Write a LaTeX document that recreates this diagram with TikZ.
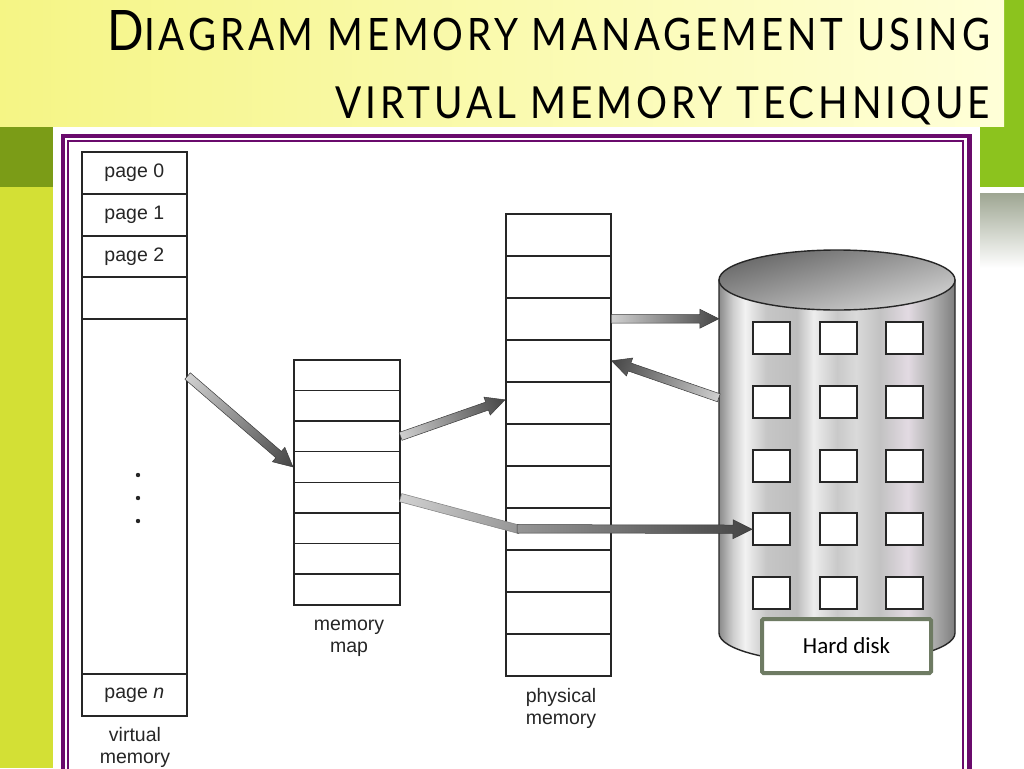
\documentclass[tikz,border=0pt]{standalone}
\usepackage{fontspec}
\usepackage{graphicx}
\setmainfont{Liberation Sans}
\newfontfamily\ttlfont[LetterSpace=10]{Lato}
\newfontfamily\hdfont{Carlito}
\usetikzlibrary{calc}

\definecolor{ttlA}{HTML}{F5F585}
\definecolor{ttlB}{HTML}{FFFFD8}
\definecolor{gDark}{HTML}{7B9C17}
\definecolor{gLight}{HTML}{D3E035}
\definecolor{gRight}{HTML}{8CC31E}
\definecolor{greyG}{HTML}{9EA692}
\definecolor{pur}{HTML}{6A0A6C}
\definecolor{txt}{HTML}{262626}
\definecolor{hdG}{HTML}{6E7B63}
\definecolor{arrL}{HTML}{D0D0D0}
\definecolor{arrM}{HTML}{959595}
\definecolor{arrD}{HTML}{454545}
\definecolor{elT}{HTML}{666666}
\definecolor{elB}{HTML}{D4D4D4}
\definecolor{cA}{HTML}{8A8A8A}
\definecolor{cB}{HTML}{CFCFCF}
\definecolor{cC}{HTML}{F2F2F2}
\definecolor{cD}{HTML}{C6C6C6}
\definecolor{cE}{HTML}{BDBDBD}
\definecolor{cF}{HTML}{EDEDED}
\definecolor{cG}{HTML}{C9C9C9}
\definecolor{cH}{HTML}{DADADA}
\definecolor{cI}{HTML}{C2C2C2}
\definecolor{cJ}{HTML}{E2DAE2}
\definecolor{cK}{HTML}{B2B2B2}
\definecolor{cL}{HTML}{7E7E7E}

\pgfdeclarehorizontalshading{cylbody}{100bp}{color(0bp)=(cA); color(25bp)=(cA); color(28bp)=(cB); color(30.5bp)=(cC); color(35bp)=(cD); color(41.5bp)=(cE); color(45bp)=(cF); color(50bp)=(cG); color(54bp)=(cH); color(59bp)=(cI); color(65bp)=(cJ); color(70bp)=(cK); color(75bp)=(cL); color(100bp)=(cL)}

\newcommand\lblfont{\fontsize{19.5}{22}\selectfont\color{txt}}

% shaded arrow from #1 to #2, tail colour #3, head colour #4
\newcommand\shadedarrow[4]{%
  \path (#1); \pgfgetlastxy{\saXa}{\saYa}%
  \path (#2); \pgfgetlastxy{\saXb}{\saYb}%
  \pgfmathsetmacro\saAng{atan2((\saYb)-(\saYa),(\saXb)-(\saXa))}%
  \pgfmathsetmacro\saLen{veclen((\saXb)-(\saXa),(\saYb)-(\saYa))}%
  \begin{scope}[transform canvas={shift={(#1)},rotate=\saAng}]
    \shadedraw[left color=#3, right color=#4, draw=#4!85!black, line width=0.5pt]
      (0pt,-4.2pt) -- (\saLen pt-19pt,-4.2pt) -- (\saLen pt-19pt,-9.5pt) -- (\saLen pt,0pt)
      -- (\saLen pt-19pt,9.5pt) -- (\saLen pt-19pt,4.2pt) -- (0pt,4.2pt) -- cycle;
  \end{scope}}
% shaded band (no head)
\newcommand\shadedband[4]{%
  \path (#1); \pgfgetlastxy{\saXa}{\saYa}%
  \path (#2); \pgfgetlastxy{\saXb}{\saYb}%
  \pgfmathsetmacro\saAng{atan2((\saYb)-(\saYa),(\saXb)-(\saXa))}%
  \pgfmathsetmacro\saLen{veclen((\saXb)-(\saXa),(\saYb)-(\saYa))}%
  \begin{scope}[transform canvas={shift={(#1)},rotate=\saAng}]
    \shadedraw[left color=#3, right color=#4, draw=#4!85!black, line width=0.5pt]
      (0pt,-4.2pt) -- (\saLen pt+3pt,-4.2pt) -- (\saLen pt+3pt,4.2pt) -- (0pt,4.2pt) -- cycle;
  \end{scope}}

\begin{document}
\begin{tikzpicture}[x=1pt,y=-1pt,
  cell/.style={draw=black!85, line width=1.6pt, inner sep=0pt, anchor=north west, font=\lblfont},
  hole/.style={draw=black!85, fill=white, line width=2pt, minimum width=37pt, minimum height=32pt, inner sep=0pt, anchor=north west},
  lbl/.style={align=center, font=\lblfont, inner sep=0pt}]
\useasboundingbox (0,0) rectangle (1024,768);

% slide background
\fill[gRight] (980,0) rectangle (1024,187);
\shade[top color=greyG, bottom color=white] (980,193) rectangle (1024,268);
\fill[gDark] (0,126) rectangle (53,187);
\fill[gLight] (0,187) rectangle (53,768);
\shade[left color=ttlA, right color=ttlB] (0,0) rectangle (1004,126);
\fill[white] (53,127) rectangle (980,768);

% title
\node[anchor=base east, inner sep=0pt] (ttl1) at (990,51)
  {\resizebox{882pt}{40pt}{\ttlfont\fontsize{50}{50}\selectfont D\fontsize{40}{40}\selectfont IAGRAM MEMORY MANAGEMENT USING}};
\node[anchor=base east, inner sep=0pt] (ttl2) at (990,118)
  {\resizebox{654pt}{32pt}{\ttlfont\fontsize{40}{40}\selectfont VIRTUAL MEMORY TECHNIQUE}};

% picture frame
\draw[pur, line width=4.5pt] (63,136) rectangle (969.5,800);
\draw[pur, line width=1.3pt] (68,141) rectangle (963,800);

% virtual memory
\node[cell, minimum width=105pt, minimum height=42pt] (vm0) at (81,151) {page 0};
\node[cell, minimum width=105pt, minimum height=42pt] (vm1) at (81,193) {page 1};
\node[cell, minimum width=105pt, minimum height=41pt] (vm2) at (81,235) {page 2};
\node[cell, minimum width=105pt, minimum height=42pt] (vm3) at (81,276) {};
\node[cell, minimum width=105pt, minimum height=355pt] (vmb) at (81,318) {};
\node[cell, minimum width=105pt, minimum height=42pt] (vmn) at (81,673) {page \textit{n}};
\foreach \y in {475,498,521} \fill[black!85] (138,\y) circle[radius=2.2pt];

% memory map
\foreach \i in {0,...,7}
  \node[cell, minimum width=106pt, minimum height=30.625pt] (mm\i) at (293,{359+30.625*\i}) {};

% physical memory
\foreach \i in {0,...,10}
  \node[cell, minimum width=105pt, minimum height=42pt] (pm\i) at (505,{213+42*\i}) {};

% labels
\node[lbl] (vmlbl) at (135,747) {virtual\\memory};
\node[lbl] (mmlbl) at (349,638) {memory\\map};
\node[lbl] (pmlbl) at (561,708) {physical\\memory};

% hard disk cylinder
\shadedraw[shading=cylbody, draw=black!85, line width=1.4pt]
  (719,280) -- (719,633) arc[start angle=180, end angle=360, x radius=118pt, y radius=30pt] -- (955,280) -- cycle;
\shadedraw[top color=elT, bottom color=elB, shading angle=15, draw=black!85, line width=1.4pt]
  (837,280) ellipse[x radius=118pt, y radius=30pt];
\node[inner sep=0pt, minimum width=236pt, minimum height=383pt] (disk) at (837,471.5) {};
\foreach \r in {0,...,4} \foreach \c in {0,1,2}
  \node[hole] (sq\r\c) at ({752+66.5*\c},{321+63.75*\r}) {};

% connector end points
\coordinate (a1s) at ($(vmb.north east)+(0,58)$);
\coordinate (a1e) at (mm3.west);
\coordinate (a2s) at (mm2.east);
\coordinate (a2e) at ($(pm4.west)+(0,-3)$);
\coordinate (a3s) at (mm4.east);
\coordinate (a3b) at ($(pm7.west)+(12,0)$);
\coordinate (a3e) at (sq30.west);
\coordinate (a4s) at (pm2.east);
\coordinate (a4e) at (disk.west |- pm2.east);
\coordinate (a5s) at ($(disk.west |- pm3.east)+(0,37)$);
\coordinate (a5e) at (pm3.east);

% connectors
\shadedarrow{a1s}{a1e}{arrL}{arrD}
\shadedarrow{a2s}{a2e}{arrL}{arrD}
\shadedband{a3s}{a3b}{arrL}{arrM}
\shadedarrow{a3b}{a3e}{arrM}{arrD}
\shadedarrow{a4s}{a4e}{arrL}{arrD}
\shadedarrow{a5s}{a5e}{arrL}{arrD}

% hard disk label
\node[draw=hdG, line width=4pt, fill=white, rounded corners=1.5pt, minimum width=169pt, minimum height=54pt,
  inner sep=0pt, font=\hdfont\fontsize{23}{26}\selectfont] (hd) at (846.5,646) {Hard disk};
\end{tikzpicture}
\end{document}
